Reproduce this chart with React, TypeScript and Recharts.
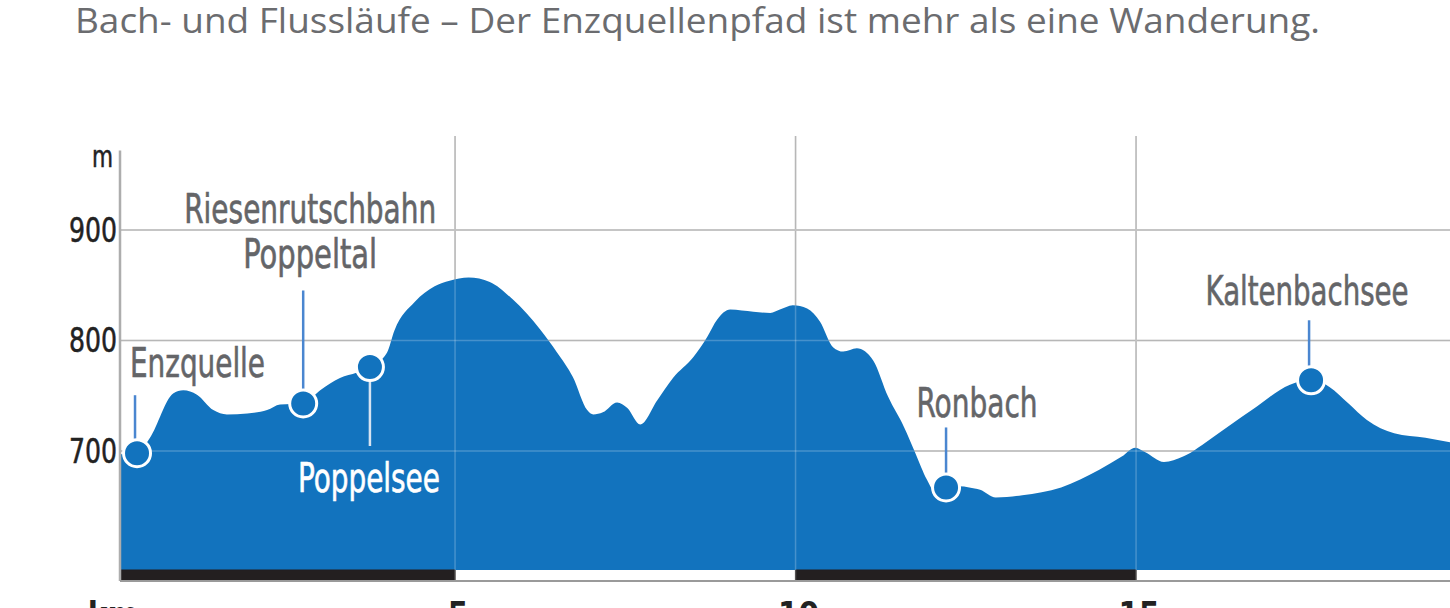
import React from 'react';
import {
  ComposedChart,
  Area,
  XAxis,
  YAxis,
  CartesianGrid,
  ReferenceLine,
  ReferenceArea,
  ReferenceDot,
} from 'recharts';

// ---------- data ----------
const titleText = 'Bach- und Flussläufe – Der Enzquellenpfad ist mehr als eine Wanderung.';

const kmValues = [
  0.08, 0.33, 0.52, 0.86, 1.01, 1.21, 1.45, 1.65, 1.95, 2.24, 2.43, 2.77, 3.02, 3.31, 3.56,
  3.75, 4.0, 4.11, 4.41, 4.7, 4.92, 5.2, 5.51, 5.85, 6.25, 6.5, 6.73, 6.94, 7.03, 7.17,
  7.38, 7.53, 7.72, 7.97, 8.2, 8.5, 8.7, 8.85, 9.04, 9.38, 9.63, 9.77, 9.96, 10.17, 10.36,
  10.55, 10.7, 10.9, 11.14, 11.36, 11.59, 11.76, 11.93, 12.05, 12.21, 12.4, 12.55, 12.71,
  12.94, 13.33, 13.9, 14.46, 14.79, 14.99, 15.13, 15.41, 15.69, 16.14, 16.7, 17.26, 17.57,
  17.84, 18.12, 18.39, 18.79, 19.25, 19.61, 19.85,
];
const elevations = [
  697, 698, 712, 752, 755, 751, 737, 733, 734, 737, 742, 743, 755, 766, 771,
  776, 789, 809, 835, 849, 854, 857, 853, 837, 810, 789, 767, 737, 733, 735,
  744, 739, 724, 746, 766, 785, 803, 819, 828, 826, 825, 828, 832, 829, 817,
  794, 790, 793, 782, 749, 722, 698, 674, 663, 665, 668, 667, 665,
  658, 660, 667, 683, 695, 703, 699, 690, 695, 713, 737, 760, 765,
  758, 743, 728, 716, 712, 708, 706,
];

const markerLabels = [
  ['Enzquelle'],
  ['Riesenrutschbahn', 'Poppeltal'],
  ['Poppelsee'],
  ['Ronbach'],
  ['Kaltenbachsee'],
];
const markerKm = [0.33, 2.77, 3.75, 12.21, 17.57];
const markerElev = [698, 743, 776, 667, 764];

const kmTicks = [5, 10, 15];
const elevTicks = [700, 800, 900];
const distanceUnit = 'km';
const elevationUnit = 'm';
// alternating black distance bar: black segments (km)
const blackSegments = [
  [0.08, 5],
  [10, 15],
];

// ---------- layout / style ----------
const W = 1450;
const CHART_W = 1466;
const H = 608;
const X_MIN = 0.08;
const X_MAX = 19.845;
const Y_MIN = 582.35;
const Y_MAX = 985.07;
const BASE = 592.3;
const AXIS_TOP_ELEV = 972;

const BLUE = '#1273be';
const LEADER = '#4a86d0';
const LABEL_GRAY = '#646568';
const NARROW = "'Liberation Sans Narrow', 'DejaVu Sans Condensed', 'Roboto Condensed', sans-serif";

type LabelLayout = {
  anchor: 'start' | 'middle' | 'end';
  dx: number;
  dys: number[];
  widths: number[];
  color: string;
  leaderDx: number;
  leaderDy: [number, number];
  leaderColor: string;
};

const labelLayouts: LabelLayout[] = [
  { anchor: 'start', dx: -7, dys: [-76], widths: [135], color: LABEL_GRAY, leaderDx: -2, leaderDy: [-58, -14], leaderColor: LEADER },
  { anchor: 'middle', dx: 7, dys: [-180, -135], widths: [252, 134], color: LABEL_GRAY, leaderDx: 0, leaderDy: [-113, -14], leaderColor: LEADER },
  { anchor: 'middle', dx: -1, dys: [125], widths: [142], color: '#ffffff', leaderDx: 0, leaderDy: [14, 79], leaderColor: '#d6e3f1' },
  { anchor: 'middle', dx: 31, dys: [-70], widths: [121], color: LABEL_GRAY, leaderDx: 0, leaderDy: [-60, -14], leaderColor: LEADER },
  { anchor: 'middle', dx: -4, dys: [-75], widths: [203], color: LABEL_GRAY, leaderDx: -2, leaderDy: [-60, -14], leaderColor: LEADER },
];

const profileData = kmValues.map((km, i) => ({ km, elev: elevations[i] }));

const Marker = ({ cx, cy, i }: { cx: number; cy: number; i: number }) => {
  const L = labelLayouts[i];
  const lines = markerLabels[i];
  return (
    <g>
      <line
        x1={cx + L.leaderDx}
        x2={cx + L.leaderDx}
        y1={cy + L.leaderDy[0]}
        y2={cy + L.leaderDy[1]}
        stroke={L.leaderColor}
        strokeWidth={2.5}
      />
      <circle cx={cx} cy={cy} r={13.5} fill={BLUE} stroke="#ffffff" strokeWidth={3} />
      {lines.map((t, k) => (
        <text
          key={k}
          x={cx + L.dx}
          y={cy + L.dys[k]}
          textAnchor={L.anchor}
          fontFamily={NARROW}
          fontSize={40}
          fill={L.color}
          stroke={L.color}
          strokeWidth={0.6}
          textLength={L.widths[k]}
          lengthAdjust="spacingAndGlyphs"
        >
          {t}
        </text>
      ))}
    </g>
  );
};

const YTick = (props: any) => {
  const { x, y, payload } = props;
  return (
    <text
      x={x - 3}
      y={y + 12}
      textAnchor="end"
      fontFamily={NARROW}
      fontSize={33}
      fill="#222"
      stroke="#222"
      strokeWidth={0.5}
      textLength={48}
      lengthAdjust="spacingAndGlyphs"
    >
      {payload.value}
    </text>
  );
};

const XTick = (props: any) => {
  const { x, y, payload } = props;
  return (
    <text x={x + 3} y={y + 45} textAnchor="middle" fontFamily={NARROW} fontSize={33} fontWeight="bold" fill="#222">
      {payload.value}
    </text>
  );
};

const YUnit = (props: any) => {
  const vb = props.viewBox || { x: 0, y: 136, width: 120 };
  return (
    <text
      x={vb.x + vb.width - 7}
      y={167}
      textAnchor="end"
      fontFamily={NARROW}
      fontSize={30}
      fill="#222"
      stroke="#222"
      strokeWidth={0.5}
      textLength={21}
      lengthAdjust="spacingAndGlyphs"
    >
      {elevationUnit}
    </text>
  );
};

const XUnit = (props: any) => {
  const vb = props.viewBox || { x: 120, y: 581 };
  return (
    <text x={vb.x - 7} y={vb.y + 45} textAnchor="middle" fontFamily={NARROW} fontSize={33} fontWeight="bold" fill="#222">
      {distanceUnit}
    </text>
  );
};

export default function App() {
  return (
    <div style={{ position: 'fixed', left: 0, top: 0, width: W, height: H, overflow: 'hidden', background: '#fff' }}>
      <svg width={W} height={60} style={{ position: 'absolute', left: 0, top: 0 }}>
        <text
          x={75}
          y={33}
          fontFamily="'Open Sans', 'Noto Sans', sans-serif"
          fontSize={34}
          fill="#6b6c6f"
          textLength={1245}
          lengthAdjust="spacingAndGlyphs"
        >
          {titleText}
        </text>
      </svg>
      <div style={{ position: 'absolute', left: 0, top: 0 }}>
        <ComposedChart width={CHART_W} height={H} data={profileData} margin={{ top: 136, right: 0, bottom: 0, left: 0 }}>
          <CartesianGrid
            stroke="#a3a3a3"
            strokeWidth={1.5}
            horizontalValues={elevTicks}
            verticalValues={kmTicks}
          />
          <XAxis
            dataKey="km"
            type="number"
            domain={[X_MIN, X_MAX]}
            allowDataOverflow
            ticks={kmTicks}
            height={27}
            tickSize={0}
            tickMargin={0}
            tickLine={false}
            axisLine={{ stroke: '#9a9a9a', strokeWidth: 2 }}
            tick={<XTick />}
            label={<XUnit />}
          />
          <YAxis
            type="number"
            domain={[Y_MIN, Y_MAX]}
            allowDataOverflow
            ticks={elevTicks}
            width={120}
            tickSize={0}
            tickMargin={0}
            tickLine={false}
            axisLine={false}
            tick={<YTick />}
            label={<YUnit />}
          />
          <Area
            type="monotone"
            dataKey="elev"
            baseValue={BASE}
            fill={BLUE}
            fillOpacity={1}
            stroke="none"
            isAnimationActive={false}
          />
          {blackSegments.map((s, i) => (
            <ReferenceArea
              key={'b' + i}
              x1={s[0]}
              x2={s[1]}
              y1={Y_MIN}
              y2={BASE}
              fill="#231f20"
              fillOpacity={1}
              stroke="#231f20"
              strokeWidth={1}
              ifOverflow="visible"
            />
          ))}
          {elevTicks.map((v) => (
            <ReferenceLine key={'h' + v} y={v} stroke="#ffffff" strokeOpacity={0.22} strokeWidth={1.5} />
          ))}
          {kmTicks.map((v) => (
            <ReferenceLine key={'v' + v} x={v} stroke="#ffffff" strokeOpacity={0.22} strokeWidth={1.5} />
          ))}
          <ReferenceLine
            segment={[
              { x: X_MIN, y: AXIS_TOP_ELEV },
              { x: X_MIN, y: Y_MIN },
            ]}
            stroke="#adadad"
            strokeWidth={2.5}
          />
          {markerKm.map((km, i) => (
            <ReferenceDot
              key={'m' + i}
              x={km}
              y={markerElev[i]}
              r={13.5}
              shape={(p: any) => <Marker cx={p.cx} cy={p.cy} i={i} />}
            />
          ))}
        </ComposedChart>
      </div>
    </div>
  );
}
